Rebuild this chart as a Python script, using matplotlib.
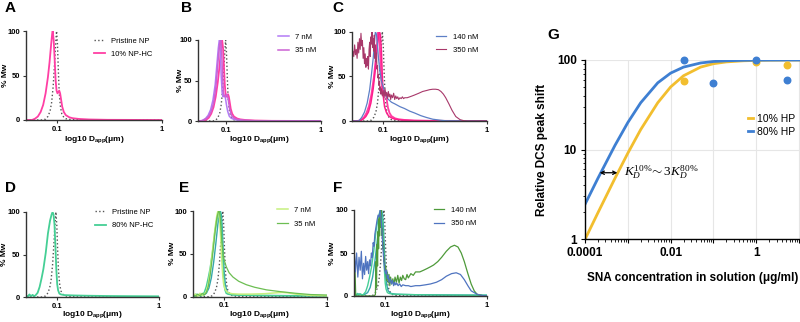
import matplotlib
matplotlib.use("Agg")
import matplotlib.pyplot as plt
from matplotlib.ticker import LogLocator, FixedLocator, NullLocator, FixedFormatter, NullFormatter

plt.rcParams['font.family'] = ['Liberation Sans', 'DejaVu Sans']
plt.rcParams['mathtext.fontset'] = 'custom'
plt.rcParams['mathtext.rm'] = 'Liberation Serif'
plt.rcParams['mathtext.it'] = 'Liberation Serif:italic'
plt.rcParams['mathtext.sf'] = 'Liberation Sans:bold'

# ---------------- data: size distributions (x in um, y in % Mw) ----------------
pristine_x = [0.05, 0.072, 0.077, 0.081, 0.085, 0.088, 0.091, 0.094, 0.096, 0.098, 0.1, 0.102,
              0.104, 0.107, 0.11, 0.115, 0.12, 0.13, 0.15, 1.0]
pristine_y = [0, 0, 1, 4, 10, 20, 38, 65, 85, 100, 85, 55, 30, 14, 7, 3, 1.5, 0.7, 0.2, 0]

hc10_x = [0.05, 0.057, 0.061, 0.065, 0.069, 0.073, 0.077, 0.081, 0.084, 0.087, 0.089, 0.090,
          0.092, 0.094, 0.096, 0.098, 0.100, 0.102, 0.104, 0.106, 0.108, 0.111, 0.115, 0.12,
          0.13, 0.14, 0.16, 0.2, 0.3, 1.0]
hc10_y = [0, 0, 1.5, 4, 9, 17, 30, 48, 65, 85, 97, 100, 90, 68, 45, 33, 30, 31, 33, 30, 24, 15,
          9, 5.5, 3, 2, 1.2, 0.6, 0.2, 0]

hc10b_x = [0.05, 0.06, 0.064, 0.068, 0.072, 0.076, 0.08, 0.084, 0.087, 0.09, 0.092, 0.094,
           0.096, 0.098, 0.1, 0.103, 0.107, 0.112, 0.12, 0.13, 0.15, 0.2, 1.0]
hc10b_y = [0, 0, 2, 5, 10, 20, 36, 58, 80, 95, 100, 96, 78, 50, 28, 16, 10, 6, 3.5, 2, 1, 0.3, 0]

nm7_x = [0.05, 0.055, 0.06, 0.064, 0.068, 0.072, 0.076, 0.079, 0.082, 0.084, 0.086, 0.088, 0.09,
         0.092, 0.094, 0.097, 0.1, 0.103, 0.107, 0.112, 0.12, 0.13, 0.15, 0.2, 1.0]
nm7_y = [0, 0.5, 3, 7, 14, 26, 45, 68, 90, 100, 85, 55, 35, 30, 32, 30, 20, 12, 6, 3.5, 2, 1, 0.5,
         0.2, 0]

nm35_x = [0.05, 0.056, 0.061, 0.065, 0.069, 0.073, 0.077, 0.08, 0.083, 0.085, 0.087, 0.089,
          0.091, 0.093, 0.095, 0.098, 0.101, 0.104, 0.108, 0.113, 0.12, 0.13, 0.15, 0.2, 1.0]
nm35_y = [0, 0.5, 3, 6, 12, 22, 40, 62, 85, 96, 100, 85, 55, 35, 30, 31, 33, 28, 15, 7, 3.5, 2,
          1, 0.3, 0]

nm140_x = [0.05, 0.058, 0.062, 0.066, 0.07, 0.074, 0.077, 0.08, 0.082, 0.084, 0.086, 0.088, 0.09,
           0.093, 0.096, 0.1, 0.105, 0.11, 0.12, 0.13, 0.145, 0.16, 0.18, 0.2, 0.23, 0.26, 0.3,
           0.35, 0.4, 1.0]
nm140_y = [0, 0, 4, 10, 20, 35, 52, 70, 85, 100, 97, 85, 70, 55, 45, 38, 30, 25, 21, 19, 16, 14,
           11, 9, 6, 4, 2, 1, 0.3, 0]

nm350_x = [0.050, 0.051, 0.052, 0.053, 0.054, 0.055, 0.056, 0.057, 0.058, 0.059, 0.060, 0.061,
           0.062, 0.063, 0.064, 0.065, 0.066, 0.067, 0.068, 0.069, 0.070, 0.071, 0.072, 0.073,
           0.074, 0.075, 0.076, 0.077, 0.078, 0.079, 0.080, 0.081, 0.082, 0.083, 0.084, 0.085,
           0.086, 0.087, 0.088, 0.089, 0.090, 0.091, 0.092, 0.093, 0.094, 0.095, 0.096, 0.098,
           0.100, 0.102, 0.104, 0.106, 0.108, 0.110, 0.112, 0.114, 0.116, 0.118, 0.120, 0.123,
           0.126, 0.129, 0.132, 0.135, 0.138, 0.141, 0.145, 0.149, 0.153, 0.157, 0.161, 0.166,
           0.17, 0.18, 0.19, 0.2, 0.22, 0.24, 0.26, 0.28, 0.3, 0.32, 0.34, 0.36, 0.38, 0.4, 0.43,
           0.46, 0.5, 0.55, 0.6, 0.65, 0.7, 1.0]
nm350_y = [66, 78, 72, 85, 74, 80, 70, 88, 76, 92, 80, 98, 84, 90, 70, 82, 64, 75, 60, 70, 62,
           72, 58, 80, 88, 72, 94, 86, 100, 82, 92, 78, 96, 70, 85, 66, 76, 58, 62, 48, 52, 40,
           44, 34, 38, 30, 36, 28, 34, 26, 36, 28, 32, 25, 33, 27, 30, 24, 29, 26, 31, 24, 28, 25,
           27, 24, 26, 25, 27, 25, 26, 26, 26, 27, 28, 29, 31, 33, 34, 35, 35.5, 35.5, 35, 33, 30,
           26, 19, 12, 5, 1.5, 0.3, 0, 0, 0]

hc80_x = [0.05, 0.052, 0.054, 0.056, 0.058, 0.06, 0.062, 0.065, 0.068, 0.071, 0.074, 0.078, 0.082,
          0.086, 0.089, 0.091, 0.093, 0.095, 0.097, 0.099, 0.101, 0.103, 0.106, 0.11, 0.12, 0.15,
          0.2, 0.3, 0.5, 1.0]
hc80_y = [2, 0.5, 3, 1, 2.5, 1, 2, 5, 12, 22, 33, 52, 75, 90, 97, 100, 97, 85, 60, 32, 15, 8, 4, 3,
          2.2, 1.8, 1.5, 1.2, 1, 0.8]

g7_x = [0.05, 0.053, 0.056, 0.059, 0.062, 0.065, 0.068, 0.071, 0.074, 0.077, 0.08, 0.083, 0.086,
        0.088, 0.09, 0.092, 0.094, 0.096, 0.098, 0.1, 0.103, 0.107, 0.112, 0.12, 0.14, 0.18, 0.25,
        0.32, 0.37, 0.42, 0.5, 0.7, 1.0]
g7_y = [1, 3, 0.5, 4, 1.5, 3, 6, 15, 30, 48, 65, 82, 95, 100, 97, 85, 65, 42, 25, 15, 9, 6, 4.5,
        3.5, 3, 3, 3.5, 4.5, 5, 4.5, 3, 1.5, 1]

g35_x = [0.05, 0.053, 0.056, 0.059, 0.062, 0.065, 0.068, 0.071, 0.074, 0.077, 0.08, 0.083, 0.086,
         0.089, 0.091, 0.093, 0.096, 0.1, 0.106, 0.113, 0.123, 0.14, 0.166, 0.2, 0.26, 0.35, 0.5,
         0.7, 1.0]
g35_y = [2, 0.5, 3, 1, 4, 2, 5, 12, 25, 42, 60, 78, 92, 99, 100, 90, 65, 45, 35, 28, 23, 18, 14,
         11, 8, 6, 4, 2.5, 2]

teal_x = [0.05, 0.053, 0.056, 0.06, 0.064, 0.068, 0.072, 0.076, 0.08, 0.084, 0.088, 0.091, 0.093,
          0.095, 0.097, 0.099, 0.101, 0.104, 0.108, 0.115, 0.13, 0.2, 0.5, 1.0]
teal_y = [3, 1, 2.5, 1, 2, 4, 10, 22, 40, 62, 85, 97, 100, 96, 80, 55, 30, 14, 6, 3, 2, 1.5, 1.2, 1]

f350_x = [0.05, 0.0515, 0.053, 0.0545, 0.056, 0.0575, 0.059, 0.0605, 0.062, 0.0635, 0.065,
          0.0665, 0.068, 0.0695, 0.071, 0.0725, 0.074, 0.0755, 0.077, 0.0785, 0.08, 0.082, 0.084,
          0.086, 0.088, 0.09, 0.092, 0.094, 0.096, 0.098, 0.1, 0.102, 0.104, 0.106, 0.108, 0.11,
          0.113, 0.116, 0.119, 0.122, 0.125, 0.128, 0.131, 0.135, 0.14, 0.145, 0.15, 0.16, 0.17,
          0.18, 0.2, 0.22, 0.25, 0.28, 0.32, 0.36, 0.4, 0.45, 0.5, 0.55, 0.6, 0.65, 0.7, 0.8, 0.9,
          1.0]
f350_y = [55, 28, 50, 22, 45, 30, 52, 20, 38, 25, 46, 30, 40, 26, 42, 35, 50, 45, 62, 58, 72, 80,
          88, 94, 92, 100, 90, 75, 55, 40, 30, 26, 30, 20, 24, 16, 20, 14, 18, 12, 16, 13, 15, 12,
          14, 11, 13, 12, 12, 11, 12, 12, 13, 14, 16, 19, 23, 26, 27, 25, 19, 12, 6, 2, 0.5, 0]

f140_x = [0.05, 0.051, 0.052, 0.055, 0.06, 0.065, 0.07, 0.075, 0.079, 0.081, 0.082, 0.083, 0.084,
          0.085, 0.086, 0.087, 0.088, 0.089, 0.09, 0.091, 0.092, 0.093, 0.094, 0.095, 0.096, 0.097,
          0.098, 0.099, 0.1, 0.102, 0.104, 0.106, 0.108, 0.11, 0.112, 0.114, 0.117, 0.12, 0.123,
          0.126, 0.13, 0.134, 0.138, 0.142, 0.146, 0.15, 0.155, 0.16, 0.165, 0.17, 0.18, 0.19, 0.2,
          0.22, 0.24, 0.26, 0.28, 0.3, 0.33, 0.36, 0.4, 0.44, 0.48, 0.52, 0.56, 0.6, 0.65, 0.7,
          0.75, 0.8, 0.9, 1.0]
f140_y = [0, 35, 0, 0, 0, 0, 0, 0, 0, 2, 40, 10, 60, 35, 75, 55, 90, 70, 95, 80, 100, 85, 70, 78,
          55, 62, 40, 45, 30, 35, 18, 28, 15, 25, 12, 22, 14, 20, 13, 22, 16, 24, 15, 22, 18, 24,
          20, 19, 25, 21, 26, 24, 28, 28, 30, 32, 34, 36, 40, 45, 52, 57, 59, 57, 50, 40, 26, 14,
          6, 2, 0.5, 0]

# ---------------- data: panel G ----------------
conc_pts = [0.021, 0.1, 1.0, 5.3]
shift10_pts = [58, None, 95, 88]
shift80_pts = [100, 56, 100, 60]
fit_conc = [1e-4, 2e-4, 5e-4, 1e-3, 2e-3, 5e-3, 1e-2, 2e-2, 5e-2, 0.1, 0.2, 0.5, 1.0, 2.0, 5.0, 10.0]
fit10 = [0.99, 1.96, 4.76, 9.09, 16.7, 33.3, 50.0, 66.7, 83.3, 90.9, 95.2, 98.0, 99.0, 99.5, 99.8, 99.9]
fit80 = [2.44, 4.76, 11.1, 20.0, 33.3, 55.6, 71.4, 83.3, 92.6, 96.2, 98.0, 99.2, 99.6, 99.8, 99.9, 99.96]

C_PRIS = '#555555'
C_PINK = '#FF3FA4'
C_PINK2 = '#FF1E8C'
C_7 = '#B37BF5'
C_35 = '#CB62D3'
C_140 = '#5D7FC6'
C_350 = '#A8386A'
C_MINT = '#45CF95'
C_LIME = '#C6F07E'
C_G35 = '#6CBE52'
C_TEAL = '#36A7AC'
C_F140 = '#4E9A3A'
C_F350 = '#4F74C0'
C_Y = '#F2BE2E'
C_B = '#3E7FD2'

W, H = 800, 322
fig = plt.figure(figsize=(8.0, 3.22), dpi=100)


def px_axes(l, t, r, b):
    return fig.add_axes([l / W, 1 - b / H, (r - l) / W, (b - t) / H])


def style_dist(ax, l, t, r, b, ylab_px, xlab_py):
    ax.set_xscale('log')
    ax.set_xlim(0.05, 1.0)
    ax.set_ylim(0, 100)
    ax.xaxis.set_major_locator(FixedLocator([0.1, 1.0]))
    ax.xaxis.set_major_formatter(FixedFormatter(['0.1', '1']))
    ax.xaxis.set_minor_locator(NullLocator())
    ax.set_yticks([0, 50, 100])
    for s in ['top', 'right']:
        ax.spines[s].set_visible(False)
    for s in ['left', 'bottom']:
        ax.spines[s].set_color('#333333')
        ax.spines[s].set_linewidth(1.0)
    ax.tick_params(length=2.5, width=0.8, color='#333333', labelsize=5.5, pad=1.5)
    for lab in ax.get_xticklabels() + ax.get_yticklabels():
        lab.set_fontweight('bold')
    ax.set_ylabel('% Mw', fontsize=6, fontweight='bold', va='center')
    ax.yaxis.set_label_coords((ylab_px - l) / (r - l), 0.5)
    ax.set_xlabel(r'log10 D$_\mathsf{app}$(μm)', fontsize=6, fontweight='bold', va='center')
    ax.xaxis.set_label_coords(0.5, (b - xlab_py) / (b - t))


def legend(ax, handles, labels, anchor):
    ax.legend(handles, labels, loc='upper left', bbox_to_anchor=anchor, frameon=False,
              fontsize=5.5, handlelength=1.4, handletextpad=0.8, labelspacing=0.8,
              borderpad=0, borderaxespad=0)


# Panel A
axA = px_axes(26, 31, 162, 120)
style_dist(axA, 26, 31, 162, 120, 6, 140)
hp, = axA.plot(pristine_x, pristine_y, ':', color=C_PRIS, lw=1.0)
h1, = axA.plot(hc10_x, hc10_y, color=C_PINK, lw=1.3)
legend(axA, [hp, h1], ['Pristine NP', '10% NP-HC'], (0.5, 0.93))

# Panel B
axB = px_axes(198, 40, 321, 121)
style_dist(axB, 198, 40, 321, 121, 180, 140)
axB.plot(pristine_x, pristine_y, ':', color=C_PRIS, lw=1.0)
axB.plot(hc10_x, hc10_y, color=C_PINK, lw=1.3)
h7, = axB.plot(nm7_x, nm7_y, color=C_7, lw=1.1)
h35, = axB.plot(nm35_x, nm35_y, color=C_35, lw=1.1)
legend(axB, [h7, h35], ['7 nM', '35 nM'], (0.65, 1.08))

# Panel C
axC = px_axes(352, 31.5, 487, 121)
style_dist(axC, 352, 31.5, 487, 121, 333, 140)
axC.plot(pristine_x, pristine_y, ':', color=C_PRIS, lw=1.0)
axC.plot(hc10_x, hc10_y, color=C_PINK, lw=1.3)
axC.plot(hc10b_x, hc10b_y, color=C_PINK2, lw=1.1)
h140, = axC.plot(nm140_x, nm140_y, color=C_140, lw=0.9)
h350, = axC.plot(nm350_x, nm350_y, color=C_350, lw=0.8)
legend(axC, [h140, h350], ['140 nM', '350 nM'], (0.62, 0.98))

# Panel D
axD = px_axes(26, 212, 159, 297)
style_dist(axD, 26, 212, 159, 297, 5, 315)
hp, = axD.plot(pristine_x, pristine_y, ':', color=C_PRIS, lw=1.0)
h80, = axD.plot(hc80_x, hc80_y, color=C_MINT, lw=1.3)
legend(axD, [hp, h80], ['Pristine NP', '80% NP-HC'], (0.52, 1.04))

# Panel E
axE = px_axes(192.6, 211, 326.7, 296.7)
style_dist(axE, 192.6, 211, 326.7, 296.7, 173, 315)
axE.plot(pristine_x, pristine_y, ':', color=C_PRIS, lw=1.0)
axE.plot(teal_x, teal_y, color=C_TEAL, lw=1.0)
axE.plot(hc80_x, hc80_y, color=C_MINT, lw=1.1)
hg7, = axE.plot(g7_x, g7_y, color=C_LIME, lw=1.1)
hg35, = axE.plot(g35_x, g35_y, color=C_G35, lw=0.9)
legend(axE, [hg7, hg35], ['7 nM', '35 nM'], (0.63, 1.05))

# Panel F
axF = px_axes(354, 210, 487, 296)
style_dist(axF, 354, 210, 487, 296, 333, 315)
axF.plot(pristine_x, pristine_y, ':', color=C_PRIS, lw=1.0)
axF.plot(teal_x, teal_y, color=C_TEAL, lw=1.0)
axF.plot(hc80_x, hc80_y, color=C_MINT, lw=1.0)
hf140, = axF.plot(f140_x, f140_y, color=C_F140, lw=0.9)
hf350, = axF.plot(f350_x, f350_y, color=C_F350, lw=0.9)
legend(axF, [hf140, hf350], ['140 nM', '350 nM'], (0.6, 1.04))

# Panel G
axG = px_axes(585, 60, 800, 239)
axG.set_xscale('log')
axG.set_yscale('log')
axG.set_xlim(1e-4, 10.5)
axG.set_ylim(1, 100)
axG.grid(True, which='major', color='#e6e6e6', lw=0.8)
axG.set_axisbelow(True)
axG.plot(fit_conc, fit10, color=C_Y, lw=2.0, label='10% HP')
axG.plot(fit_conc, fit80, color=C_B, lw=2.0, label='80% HP')
axG.scatter([c for c, v in zip(conc_pts, shift10_pts) if v is not None],
            [v for v in shift10_pts if v is not None], s=22, color=C_Y, zorder=4, clip_on=False)
axG.scatter(conc_pts, shift80_pts, s=22, color=C_B, zorder=4, clip_on=False)
axG.set_xticks([1e-4, 1e-3, 1e-2, 1e-1, 1, 10])
axG.set_xticklabels(['0.0001', '', '0.01', '', '1', ''])
axG.xaxis.set_minor_locator(LogLocator(base=10, subs=range(2, 10), numticks=20))
axG.xaxis.set_minor_formatter(NullFormatter())
axG.set_yticks([1, 10, 100])
axG.set_yticklabels(['1', '10', '100'])
axG.yaxis.set_minor_locator(LogLocator(base=10, subs=range(2, 10), numticks=20))
axG.yaxis.set_minor_formatter(NullFormatter())
for s in ['top', 'right']:
    axG.spines[s].set_visible(False)
for s in ['left', 'bottom']:
    axG.spines[s].set_color('black')
    axG.spines[s].set_linewidth(1.0)
axG.tick_params(which='major', length=3, width=0.8, labelsize=8.5, pad=3)
axG.tick_params(which='minor', length=1.8, width=0.6)
for lab in axG.get_xticklabels() + axG.get_yticklabels():
    lab.set_fontweight('bold')
axG.set_ylabel('Relative DCS peak shift', fontsize=8.5, fontweight='bold', labelpad=6)
axG.set_xlabel('SNA concentration in solution (μg/ml)', fontsize=8.5, fontweight='bold',
               labelpad=9)
axG.legend(loc='upper left', bbox_to_anchor=(0.735, 0.73), frameon=False, fontsize=7.5,
           handlelength=0.5, handletextpad=0.35, labelspacing=0.3, borderpad=0)
axG.annotate('', xy=(2.2e-4, 5.5), xytext=(5.7e-4, 5.5),
             arrowprops=dict(arrowstyle='<->', lw=0.9, color='black', shrinkA=0, shrinkB=0,
                             mutation_scale=6))
axG.text(8.0e-4, 5.6, r'$K_D^{10\%}\!\sim 3K_D^{80\%}$', fontsize=9.5, va='center', ha='left')

# Panel letters
for letter, x, y in [('A', 10, 8), ('B', 186, 8), ('C', 338, 8), ('D', 10, 188),
                     ('E', 184, 188), ('F', 338, 188), ('G', 553, 35)]:
    fig.text(x / W, 1 - y / H, letter, fontsize=11, fontweight='bold', ha='center', va='center')

fig.savefig('out.png', dpi=100)
